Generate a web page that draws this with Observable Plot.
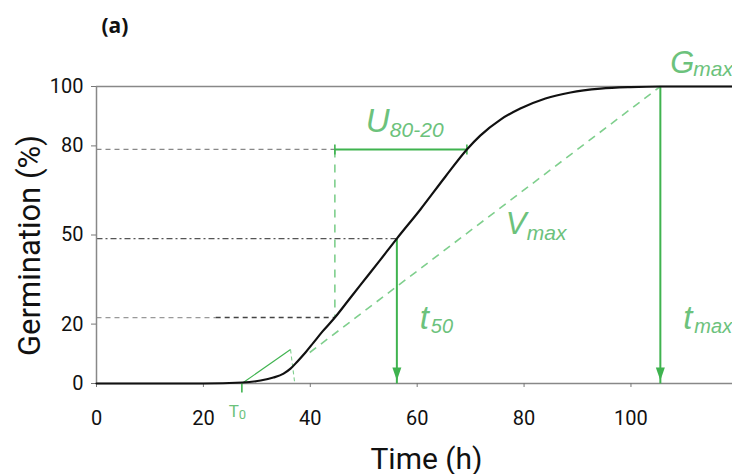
<!DOCTYPE html>
<html><head><meta charset="utf-8">
<script src="https://cdn.jsdelivr.net/npm/d3@7"></script>
<script src="https://cdn.jsdelivr.net/npm/@observablehq/plot@0.6"></script>
<style>body{margin:0;background:#fff} svg{display:block}</style>
</head><body><div id="chart"></div>
<script>
// Cumulative germination curve
const timeH = [0, 20, 27.3, 30.7, 33.1, 35.0, 36.3, 37.6, 39.1, 40.6, 42.3, 44.6, 47.0, 49.4, 53.1, 56.2, 60.6, 65.3, 69.3, 71.8, 75.6, 79.3, 84.0, 88.7, 94.3, 99.9, 105.5, 119];
const germination = [0, 0, 0.3, 0.9, 1.8, 3.0, 4.5, 6.7, 9.4, 12.4, 15.8, 20, 26.2, 32.4, 41.9, 50, 59.8, 70.9, 80, 84.4, 89.5, 93.0, 96.2, 98.1, 99.3, 99.8, 100, 100];
const yTicks = [0, 20, 50, 80, 100];
const xTicks = [0, 20, 40, 60, 80, 100];

// Germination parameters
const T0 = 27.2, t20 = 44.6, t50 = 56.2, t80 = 69.3, tmax = 105.5, Gmax = 100;
const tangentEnd = {x: 36.3, y: 10.3}, tangentFootX = 37.1;
const vmaxStart = {x: 39.9, y: 9.4};

const curve = timeH.map((t, i) => ({t, g: germination[i]}));

// the schematic's y axis is not evenly spaced: warp germination to axis position
const warp = d3.scaleLinear().domain(yTicks).range([0, 22.2, 48.8, 78.8, 100]);

const green = "#3fb34f", greenText = "#6cc27c", greenDash = "#7fcf8d";
const arrowHead = {draw(c) { c.moveTo(0, 0); c.lineTo(-4.5, -13); c.lineTo(4.5, -13); c.closePath(); }};
const capV = {draw(c) { c.moveTo(0, -5); c.lineTo(0, 5); }};
const tickDown = {draw(c) { c.moveTo(0, 0); c.lineTo(0, 9); }};

function seg(p, opts) {
  return Plot.link([p], {x1: "x1", y1: "y1", x2: "x2", y2: "y2", ...opts});
}
function lab(items, opts) {
  return Plot.text(items, {x: "x", y: "y", text: "text", textAnchor: "start", lineAnchor: "bottom",
    fill: greenText, fontFamily: "Liberation Sans", fontStyle: "italic", ...opts});
}

const chart = Plot.plot({
  width: 732, height: 474,
  marginLeft: 96, marginRight: 0, marginTop: 86, marginBottom: 91,
  style: {fontFamily: "Roboto", fontSize: "20px", color: "#111", background: "#fff", overflow: "visible"},
  x: {domain: [0, 119]},
  y: {domain: [0, 100], transform: warp},
  marks: [
    Plot.ruleY([Gmax], {stroke: "#888", strokeWidth: 1.5}),
    // gray guide lines
    seg({x1: 0, y1: 80, x2: t20, y2: 80}, {stroke: "#888", strokeWidth: 1.3, strokeDasharray: "5,4"}),
    seg({x1: 0, y1: 50, x2: t50, y2: 50}, {stroke: "#555", strokeWidth: 1.3, strokeDasharray: "6,3,2,3"}),
    seg({x1: 0, y1: 20, x2: 22.3, y2: 20}, {stroke: "#999", strokeWidth: 1.3, strokeDasharray: "5,4"}),
    seg({x1: 22.3, y1: 20, x2: t20, y2: 20}, {stroke: "#444", strokeWidth: 1.5, strokeDasharray: "5,4"}),
    Plot.ruleX([0], {y1: 0, y2: 100, stroke: "#888", strokeWidth: 1.5}),
    Plot.ruleY([0], {stroke: "#888", strokeWidth: 1.5}),
    Plot.axisX({ticks: xTicks, tickSize: 4, tickPadding: 23, stroke: "#777", label: null, fontSize: 20}),
    Plot.axisY({ticks: yTicks, tickSize: 5, tickPadding: 8, stroke: "#777", label: null, fontSize: 20}),
    // U80-20 vertical dashed guide and Vmax dashed line
    seg({x1: t20, y1: 80, x2: t20, y2: 20}, {stroke: greenDash, strokeWidth: 1.6, strokeDasharray: "8,7"}),
    seg({x1: vmaxStart.x, y1: vmaxStart.y, x2: tmax, y2: Gmax}, {stroke: greenDash, strokeWidth: 1.6, strokeDasharray: "8,6"}),
    // T0 tangent construction
    seg({x1: T0, y1: 0, x2: tangentEnd.x, y2: tangentEnd.y}, {stroke: green, strokeWidth: 1.1}),
    seg({x1: tangentEnd.x, y1: tangentEnd.y, x2: tangentFootX, y2: 0}, {stroke: greenDash, strokeWidth: 1.1, strokeDasharray: "4,3"}),
    Plot.dot([{x: T0, y: 0}], {x: "x", y: "y", symbol: tickDown, fill: "none", stroke: green, strokeWidth: 1.6}),
    // U80-20 bar
    seg({x1: t20, y1: 80, x2: t80, y2: 80}, {stroke: green, strokeWidth: 2}),
    Plot.dot([{x: t20, y: 80}, {x: t80, y: 80}], {x: "x", y: "y", symbol: capV, fill: "none", stroke: green, strokeWidth: 1.6}),
    // arrows t50 and tmax
    Plot.link([{x: t50, y1: 50}, {x: tmax, y1: Gmax}], {x1: "x", x2: "x", y1: "y1", y2: () => 0, stroke: green, strokeWidth: 2}),
    Plot.dot([{x: t50, y: 0}, {x: tmax, y: 0}], {x: "x", y: "y", dy: -3, symbol: arrowHead, fill: green, stroke: "none"}),
    // curve
    Plot.line(curve, {x: "t", y: "g", curve: "monotone-x", stroke: "#111", strokeWidth: 2.2}),
    // labels
    lab([{x: t20, y: 80, text: "U"}], {fontSize: 33, dx: 31, dy: -17}),
    lab([{x: t20, y: 80, text: "80-20"}], {fontSize: 21, dx: 55, dy: -12}),
    lab([{x: tmax, y: Gmax, text: "G"}], {fontSize: 31, dx: 10, dy: -14}),
    lab([{x: tmax, y: Gmax, text: "max"}], {fontSize: 21, dx: 33, dy: -11}),
    lab([{x: t50, y: 50, text: "V"}], {fontSize: 31, dx: 109, dy: -5}),
    lab([{x: t50, y: 50, text: "max"}], {fontSize: 21, dx: 130, dy: 1}),
    lab([{x: t50, y: 0, text: "t"}, {x: tmax, y: 0, text: "t"}], {fontSize: 33, dx: 23, dy: -55}),
    lab([{x: t50, y: 0, text: "50"}, {x: tmax, y: 0, text: "max"}], {fontSize: 20, dx: 34, dy: -51}),
    lab([{x: T0, y: 0, text: "T"}], {fontSize: 17, dx: -13, dy: 33, fontStyle: "normal", fontFamily: "Roboto"}),
    lab([{x: T0, y: 0, text: "0"}], {fontSize: 13, dx: -3, dy: 35, fontStyle: "normal", fontFamily: "Roboto"}),
    // axis titles and panel tag
    Plot.text(["Time (h)"], {frameAnchor: "bottom", text: d => d, dx: 12, dy: 85, textAnchor: "middle", lineAnchor: "bottom", fontSize: 30, fill: "#111"}),
    Plot.text(["Germination (%)"], {frameAnchor: "left", text: d => d, rotate: -90, dx: -66, dy: 10.5, textAnchor: "middle", lineAnchor: "middle", fontSize: 31, fill: "#111"}),
    Plot.text(["(a)"], {frameAnchor: "top-left", text: d => d, dx: 5, dy: -54, textAnchor: "start", lineAnchor: "bottom", fontSize: 21, fontWeight: "bold", fontFamily: "Open Sans", fill: "#111"})
  ]
});
document.getElementById("chart").append(chart);
</script>
</body></html>
